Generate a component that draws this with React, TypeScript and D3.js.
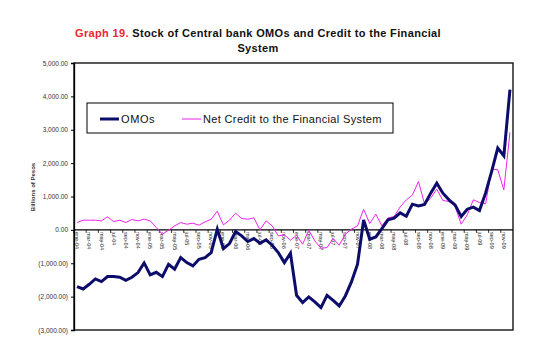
import React, { useRef, useEffect } from "react";
import * as d3 from "d3";

// months shown on the category axis (Spanish abbreviations)
const monthNames = ["ene", "feb", "mar", "abr", "may", "jun", "jul", "ago", "sep", "oct", "nov", "dic"];
const years = ["04", "05", "06", "07", "08", "09"];

// billions of pesos, monthly, ene-04 .. dic-09
const omos = [
	-1700, -1770, -1630, -1470, -1550, -1400, -1400, -1420, -1510, -1420, -1280, -990,
	-1350, -1270, -1400, -1030, -1180, -830, -980, -1080, -880, -830, -680, 20,
	-560, -410, -50, -180, -350, -260, -400, -300, -460, -680, -980, -700,
	-1960, -2180, -2010, -2160, -2330, -1960, -2110, -2280, -1980, -1560, -1030, 300,
	-280, -210, 40, 300, 350, 510, 410, 770, 720, 760,
	1100, 1400, 1100, 900, 750, 400, 620, 680, 580, 1100, 1750, 2450, 2220, 4200,
];

const netCredit = [
	220, 290, 290, 290, 270, 390, 250, 290, 220, 310, 270, 320,
	270, 70, -130, -10, 120, 220, 170, 200, 140, 240, 320, 560,
	150, 290, 500, 340, 320, 360, 0, 270, 120, -180, -150, -310,
	-160, -430, -10, -330, -550, -530, -260, -460, -130, 20, 120, 620,
	190, 470, 120, 360, 400, 690, 900, 1040, 1450, 770,
	950, 1220, 880, 850, 700, 170, 450, 900, 820, 780, 1820, 1800, 1200, 2920,
];

const yTicks = [-3000, -2000, -1000, 0, 1000, 2000, 3000, 4000, 5000];

const seriesNames = ["OMOs", "Net Credit to the Financial System"];

const categories = years.flatMap((yr) => monthNames.map((m) => `${m}-${yr}`));

const StockChart = () => {
	const svgRef = useRef(null);

	useEffect(() => {
		document.body.style.margin = "0";
		const svg = d3.select(svgRef.current);
		svg.selectAll("*").remove();

		const left = 74,
			right = 513,
			top = 63,
			bottom = 330;
		const font = "'Liberation Sans', Arial, sans-serif";

		const x = d3.scalePoint().domain(categories).range([left, right]).padding(0.5);
		const y = d3.scaleLinear().domain([-3000, 5000]).range([bottom, top]);

		svg.append("rect").attr("width", 560).attr("height", 364).attr("fill", "#fff");

		// title
		const title = svg
			.append("text")
			.attr("x", 258)
			.attr("y", 37)
			.attr("text-anchor", "middle")
			.style("font-family", font)
			.style("font-size", "11px")
			.style("font-weight", "bold")
			.style("letter-spacing", "0.35px");
		title.append("tspan").attr("fill", "#e8282c").text("Graph 19. ");
		title.append("tspan").attr("fill", "#111").text("Stock of Central bank OMOs and Credit to the Financial");
		svg.append("text")
			.attr("x", 258)
			.attr("y", 52)
			.attr("text-anchor", "middle")
			.style("font-family", font)
			.style("font-size", "11px")
			.style("font-weight", "bold")
			.style("letter-spacing", "0.35px")
			.attr("fill", "#111")
			.text("System");

		// plot frame
		svg.append("rect")
			.attr("x", left)
			.attr("y", top)
			.attr("width", right - left)
			.attr("height", bottom - top)
			.attr("fill", "none")
			.attr("stroke", "#000")
			.attr("stroke-width", 1.3);

		// y axis
		const yAxis = svg
			.append("g")
			.attr("transform", `translate(${left},0)`)
			.call(
				d3
					.axisLeft(y)
					.tickValues(yTicks)
					.tickSize(3)
					.tickPadding(3)
					.tickFormat((d) => {
						const s = d3.format(",.2f")(Math.abs(d));
						return d < 0 ? `(${s})` : s;
					})
			);
		yAxis.select(".domain").attr("stroke", "#000").attr("stroke-width", 1.3);
		yAxis.selectAll("text").style("font-family", font).style("font-size", "6.5px").attr("fill", "#333");

		svg.append("text")
			.attr("transform", "translate(35,187) rotate(-90)")
			.attr("text-anchor", "middle")
			.style("font-family", font)
			.style("font-size", "6px")
			.style("font-weight", "bold")
			.attr("fill", "#333")
			.text("Billions of Pesos");

		// category axis on the zero line
		const y0 = y(0);
		svg.append("line")
			.attr("x1", left)
			.attr("x2", right)
			.attr("y1", y0)
			.attr("y2", y0)
			.attr("stroke", "#000")
			.attr("stroke-width", 1.2);
		const step = x.step();
		categories.forEach((c, i) => {
			if (i % 2 !== 0) return;
			svg.append("line")
				.attr("x1", x(c) - step / 2)
				.attr("x2", x(c) - step / 2)
				.attr("y1", y0)
				.attr("y2", y0 + 3)
				.attr("stroke", "#000")
				.attr("stroke-width", 0.8);
			svg.append("text")
				.attr("transform", `translate(${x(c)},${y0 + 2}) rotate(90)`)
				.attr("dy", "0.35em")
				.style("font-family", font)
				.style("font-size", "5.5px")
				.attr("fill", "#222")
				.text(c);
		});

		const line = d3
			.line()
			.x((d, i) => x(categories[i]))
			.y((d) => y(d));

		svg.append("path")
			.datum(netCredit)
			.attr("d", line)
			.attr("fill", "none")
			.attr("stroke", "#ee22ee")
			.attr("stroke-width", 1);

		svg.append("path")
			.datum(omos)
			.attr("d", line)
			.attr("fill", "none")
			.attr("stroke", "#0c0c6a")
			.attr("stroke-width", 3)
			.attr("stroke-linejoin", "miter");

		// legend
		const lg = svg.append("g");
		lg.append("rect")
			.attr("x", 87)
			.attr("y", 103)
			.attr("width", 306)
			.attr("height", 30)
			.attr("fill", "#fff")
			.attr("stroke", "#000")
			.attr("stroke-width", 1);
		const items = [
			{ name: seriesNames[0], color: "#0c0c6a", w: 3, x0: 100, ls: 0.6 },
			{ name: seriesNames[1], color: "#ee22ee", w: 1, x0: 182, ls: 0.35 },
		];
		items.forEach((it) => {
			lg.append("line")
				.attr("x1", it.x0)
				.attr("x2", it.x0 + 19)
				.attr("y1", 119)
				.attr("y2", 119)
				.attr("stroke", it.color)
				.attr("stroke-width", it.w);
			lg.append("text")
				.attr("x", it.x0 + 21)
				.attr("y", 123)
				.style("font-family", font)
				.style("font-size", "11px")
				.style("letter-spacing", `${it.ls}px`)
				.attr("fill", "#111")
				.text(it.name);
		});
	}, []);

	return <svg ref={svgRef} width={560} height={364} style={{ display: "block" }} />;
};

export default function App() {
	return <StockChart />;
}
